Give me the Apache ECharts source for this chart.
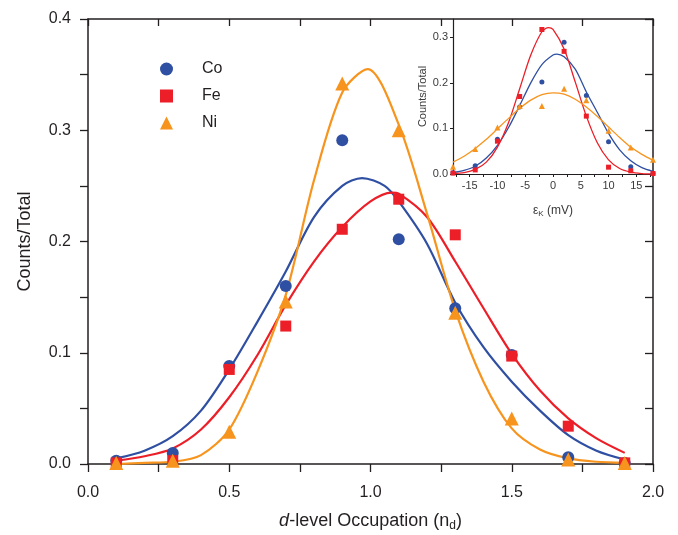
<!DOCTYPE html>
<html>
<head>
<meta charset="utf-8">
<script src="https://cdn.jsdelivr.net/npm/echarts@6/dist/echarts.min.js"></script>
<style>
  html, body { margin: 0; padding: 0; background: #ffffff; }
  #chart { width: 678px; height: 535px; }
</style>
</head>
<body>
<div id="chart"></div>
<script>
// ---- main panel: measured fractions vs d-level occupation ----
const occupation = [0.1, 0.3, 0.5, 0.7, 0.9, 1.1, 1.3, 1.5, 1.7, 1.9];
const coCounts = [0.003, 0.010, 0.088, 0.160, 0.291, 0.202, 0.140, 0.098, 0.006, 0.001];
const feCounts = [0.001, 0.003, 0.085, 0.124, 0.211, 0.238, 0.206, 0.097, 0.034, 0.001];
const niCounts = [0.001, 0.003, 0.029, 0.146, 0.342, 0.300, 0.136, 0.041, 0.004, 0.001];

// fitted curves for the main panel, [occupation, counts/total]
const coFit = [[0.1,0.005],[0.2,0.012],[0.3,0.025],[0.4,0.048],[0.5,0.085],[0.6,0.128],[0.7,0.173],[0.8,0.222],[0.9,0.250],[0.97,0.257],[1.05,0.250],[1.1,0.236],[1.2,0.198],[1.3,0.145],[1.4,0.105],[1.5,0.074],[1.6,0.048],[1.7,0.026],[1.8,0.012],[1.9,0.004]];
const feFit = [[0.1,0.003],[0.2,0.007],[0.3,0.014],[0.4,0.031],[0.5,0.060],[0.6,0.098],[0.7,0.143],[0.8,0.182],[0.9,0.213],[1.0,0.236],[1.075,0.244],[1.1,0.243],[1.2,0.222],[1.3,0.182],[1.4,0.140],[1.5,0.099],[1.6,0.066],[1.7,0.041],[1.8,0.023],[1.9,0.010]];
const niFit = [[0.1,0.000],[0.2,0.001],[0.3,0.002],[0.4,0.008],[0.5,0.031],[0.6,0.083],[0.7,0.152],[0.8,0.255],[0.9,0.334],[0.99,0.355],[1.1,0.305],[1.2,0.225],[1.3,0.138],[1.4,0.074],[1.5,0.032],[1.6,0.013],[1.7,0.005],[1.8,0.002],[1.9,0.001]];

// ---- inset: distribution vs epsilon_K ----
const epsK = [-18, -14, -10, -6, -2, 2, 6, 10, 14, 18];
const coInset = [0.003, 0.018, 0.076, 0.147, 0.202, 0.289, 0.172, 0.071, 0.016, 0.001];
const feInset = [0.002, 0.009, 0.072, 0.170, 0.317, 0.269, 0.127, 0.015, 0.007, 0.001];
const niInset = [0.016, 0.055, 0.102, 0.149, 0.149, 0.187, 0.162, 0.095, 0.058, 0.031];

const coInsetFit = [[-18,0.003],[-16,0.008],[-14,0.017],[-12,0.035],[-10,0.063],[-8,0.102],[-6,0.150],[-4,0.200],[-2,0.240],[0,0.261],[0.7,0.263],[2,0.257],[4,0.230],[6,0.180],[8,0.135],[10,0.089],[12,0.053],[14,0.029],[16,0.014],[18,0.006]];
const feInsetFit = [[-18,0.001],[-16,0.003],[-14,0.010],[-12,0.026],[-10,0.059],[-8,0.113],[-6,0.187],[-4,0.261],[-2,0.312],[-0.8,0.321],[0,0.317],[2,0.274],[4,0.202],[6,0.127],[8,0.068],[10,0.031],[12,0.012],[14,0.004],[16,0.001],[18,0.000]];
const niInsetFit = [[-18,0.026],[-16,0.039],[-14,0.056],[-12,0.076],[-10,0.099],[-8,0.122],[-6,0.144],[-4,0.162],[-2,0.174],[0,0.178],[2,0.175],[4,0.164],[6,0.147],[8,0.126],[10,0.103],[12,0.080],[14,0.059],[16,0.043],[18,0.030]];

const insetLabelValues = [-15, -10, -5, 0, 5, 10, 15];
const insetTickValues = [-17.5, -15, -12.5, -10, -7.5, -5, -2.5, 0, 2.5, 5, 7.5, 10, 12.5, 15, 17.5];

const names = ['Co', 'Fe', 'Ni'];
const colors = { Co: '#2F4FA2', Fe: '#EC1E27', Ni: '#F7941D' };
const ink = '#231F20';
const font = '"Liberation Sans", Arial, Helvetica, sans-serif';

const pair = (xs, ys) => xs.map((x, i) => [x, ys[i]]);

const chart = echarts.init(document.getElementById('chart'), null, { renderer: 'canvas' });

function frameAxis(extra) {
  return Object.assign({
    axisLine: { show: true, onZero: false, lineStyle: { color: ink, width: 1.5 } },
    splitLine: { show: false },
  }, extra);
}

const option = {
  animation: false,
  backgroundColor: '#ffffff',
  textStyle: { fontFamily: font },
  grid: [
    { left: 88, right: 25, top: 19, bottom: 71, outerBoundsMode: 'none', containLabel: false },
    { left: 453, top: 19, width: 200, height: 155, outerBoundsMode: 'none', containLabel: false }
  ],
  legend: {
    data: names,
    orient: 'vertical',
    left: 155,
    top: 56,
    itemWidth: 13,
    itemHeight: 13,
    itemGap: 11,
    textStyle: { fontSize: 16, color: ink, fontFamily: font, padding: [0, 0, 0, 24] }
  },
  xAxis: [
    frameAxis({
      type: 'value', gridIndex: 0, min: 0, max: 2, interval: 0.5,
      axisTick: { show: true, inside: false, length: 8, lineStyle: { color: ink, width: 1.3 } },
      minorTick: { show: true, splitNumber: 2, length: 8, lineStyle: { color: ink, width: 1.3 } },
      axisLabel: { fontSize: 16, color: ink, margin: 21, formatter: v => v.toFixed(1) },
      name: '{it|d}-level Occupation (n{sub|d})',
      nameLocation: 'middle', nameGap: 46,
      nameTextStyle: {
        fontSize: 18, color: ink,
        rich: {
          it: { fontSize: 18, fontStyle: 'italic', color: ink },
          sub: { fontSize: 12, color: ink, padding: [10, 0, 0, 0] }
        }
      }
    }),
    frameAxis({
      type: 'value', gridIndex: 0, position: 'top', min: 0, max: 2, interval: 0.25,
      axisTick: { show: true, inside: true, length: 7, lineStyle: { color: ink, width: 1.3 } },
      axisLabel: { show: false }
    }),
    {
      type: 'value', gridIndex: 1, min: -18, max: 18,
      axisLine: { show: true, onZero: false, lineStyle: { color: ink, width: 1.2 } },
      splitLine: { show: false },
      axisTick: { show: true, inside: false, length: 3, customValues: insetTickValues, lineStyle: { color: ink, width: 1 } },
      axisLabel: { fontSize: 11, color: '#3a3a3a', margin: 6, customValues: insetLabelValues },
      name: 'ε{sub|K} (mV)',
      nameLocation: 'middle', nameGap: 29,
      nameTextStyle: {
        fontSize: 12, color: '#3a3a3a',
        rich: { sub: { fontSize: 8, color: '#3a3a3a', padding: [7, 0, 0, 0] } }
      }
    }
  ],
  yAxis: [
    frameAxis({
      type: 'value', gridIndex: 0, min: 0, max: 0.4, interval: 0.1,
      axisTick: { show: true, inside: false, length: 8, lineStyle: { color: ink, width: 1.3 } },
      minorTick: { show: true, splitNumber: 2, length: 8, lineStyle: { color: ink, width: 1.3 } },
      axisLabel: { fontSize: 16, color: ink, margin: 17, formatter: v => v.toFixed(1) },
      name: 'Counts/Total',
      nameLocation: 'middle', nameGap: 54, nameRotate: 90,
      nameTextStyle: { fontSize: 18, color: ink }
    }),
    frameAxis({
      type: 'value', gridIndex: 0, position: 'right', min: 0, max: 0.4, interval: 0.05,
      axisTick: { show: true, inside: true, length: 8, lineStyle: { color: ink, width: 1.3 } },
      axisLabel: { show: false }
    }),
    {
      type: 'value', gridIndex: 1, min: 0, max: 0.34, interval: 0.1,
      axisLine: { show: true, onZero: false, lineStyle: { color: ink, width: 1.2 } },
      splitLine: { show: false },
      axisTick: { show: true, inside: false, length: 3, lineStyle: { color: ink, width: 1 } },
      axisLabel: { fontSize: 11, color: '#3a3a3a', margin: 5, showMaxLabel: false, formatter: v => v.toFixed(1) },
      name: 'Counts/Total',
      nameLocation: 'middle', nameGap: 24, nameRotate: 90,
      nameTextStyle: { fontSize: 11, color: '#3a3a3a' }
    }
  ],
  series: []
};

const mainFits = { Co: coFit, Fe: feFit, Ni: niFit };
const mainPts = { Co: coCounts, Fe: feCounts, Ni: niCounts };
const insetFits = { Co: coInsetFit, Fe: feInsetFit, Ni: niInsetFit };
const insetPts = { Co: coInset, Fe: feInset, Ni: niInset };
const symbols = { Co: 'circle', Fe: 'rect', Ni: 'triangle' };
const sizes = { Co: 12, Fe: 11, Ni: 14 };
const insetSizes = { Co: 5, Fe: 5, Ni: 6 };

names.forEach((n, i) => {
  option.series.push({
    name: n + ' fit', type: 'line', xAxisIndex: 0, yAxisIndex: 0,
    data: mainFits[n], smooth: 0.3, showSymbol: false, z: 2 + i,
    lineStyle: { color: colors[n], width: 2.2 }, silent: true
  });
});
names.forEach((n, i) => {
  option.series.push({
    name: n, type: 'scatter', xAxisIndex: 0, yAxisIndex: 0,
    data: pair(occupation, mainPts[n]), symbol: symbols[n], symbolSize: sizes[n],
    itemStyle: { color: colors[n], opacity: 1 }, z: 6 + i
  });
});
names.forEach((n, i) => {
  option.series.push({
    name: n + ' inset fit', type: 'line', xAxisIndex: 2, yAxisIndex: 2,
    data: insetFits[n], smooth: 0.3, showSymbol: false, z: 10 + i,
    lineStyle: { color: colors[n], width: 1.3 }, silent: true
  });
  option.series.push({
    name: n + ' inset', type: 'scatter', xAxisIndex: 2, yAxisIndex: 2,
    data: pair(epsK, insetPts[n]), symbol: symbols[n], symbolSize: insetSizes[n],
    itemStyle: { color: colors[n], opacity: 1 }, z: 14 + i
  });
});

chart.setOption(option);
</script>
</body>
</html>
